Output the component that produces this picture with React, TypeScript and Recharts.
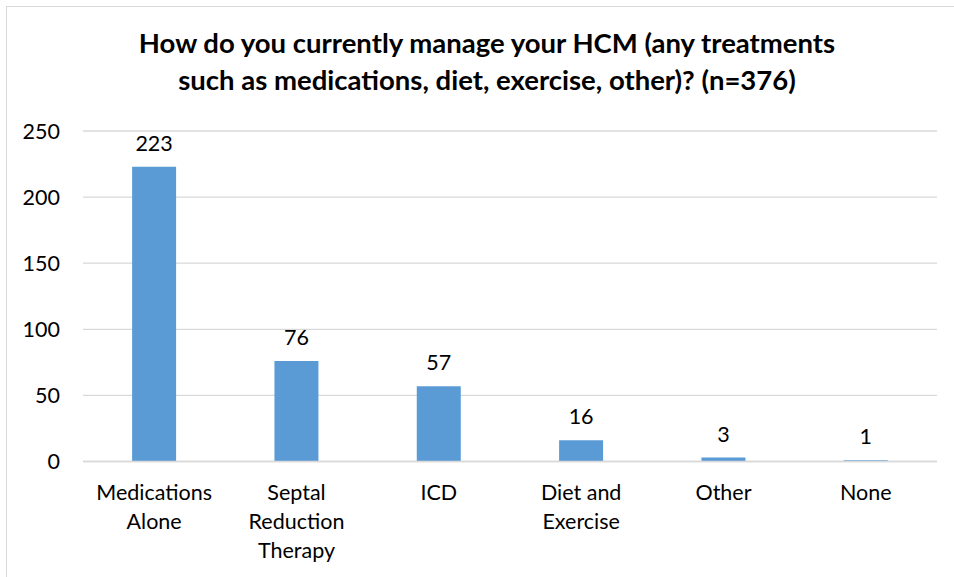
import React from "react";
import { BarChart, Bar, XAxis, YAxis, CartesianGrid, LabelList } from "recharts";

const categories = ["Medications Alone", "Septal Reduction Therapy", "ICD", "Diet and Exercise", "Other", "None"];
const counts = [223, 76, 57, 16, 3, 1];
const yTicks = [0, 50, 100, 150, 200, 250];
const titleLines = [
  "How do you currently manage your HCM (any treatments",
  "such as medications, diet, exercise, other)? (n=376)",
];

const data = categories.map((c, i) => ({ name: c, value: counts[i] }));

const FONT = "Lato, 'Open Sans', sans-serif";
const FS = 21.5;

function wrap(label: string, maxChars: number): string[] {
  const words = label.split(" ");
  const lines: string[] = [];
  let cur = "";
  for (const w of words) {
    const next = cur ? cur + " " + w : w;
    if (next.length > maxChars && cur) {
      lines.push(cur);
      cur = w;
    } else {
      cur = next;
    }
  }
  if (cur) lines.push(cur);
  return lines;
}

const XTick = (props: any) => {
  const { x, y, payload } = props;
  const lines = wrap(String(payload.value), 12);
  return (
    <text x={x} y={y} textAnchor="middle" fill="#000" fontSize={FS} fontFamily={FONT}>
      {lines.map((l, i) => (
        <tspan key={i} x={x} dy={i === 0 ? 30.5 : 29}>
          {l}
        </tspan>
      ))}
    </text>
  );
};

export default function App() {
  return (
    <div style={{ position: "absolute", left: 0, top: 0, width: 954, height: 577, overflow: "hidden", background: "#fff" }}>
      <div
        style={{
          position: "absolute",
          left: 6,
          top: 6,
          width: 960,
          height: 600,
          borderLeft: "1.5px solid #d9d9d9",
          borderTop: "1.5px solid #d9d9d9",
        }}
      />
      <div
        style={{
          position: "absolute",
          left: 0,
          width: 974,
          top: 24,
          textAlign: "center",
          fontFamily: FONT,
          fontWeight: 700,
          fontSize: 27.5,
          lineHeight: "37px",
          color: "#000",
          whiteSpace: "nowrap",
        }}
      >
        {titleLines.map((t, i) => (
          <div key={i}>{t}</div>
        ))}
      </div>
      <div style={{ position: "absolute", left: 0, top: 0 }}>
        <BarChart
          width={954}
          height={577}
          data={data}
          margin={{ top: 131, right: 17, bottom: 0, left: 0 }}
          barCategoryGap="34.5%"
        >
          <CartesianGrid vertical={false} stroke="#d9d9d9" strokeWidth={1.3} />
          <XAxis
            dataKey="name"
            axisLine={{ stroke: "#d9d9d9", strokeWidth: 1.3 }}
            tickLine={false}
            tick={<XTick />}
            interval={0}
            height={115.5}
          />
          <YAxis
            domain={[0, 250]}
            ticks={yTicks}
            axisLine={false}
            tickLine={false}
            tickSize={0}
            tickMargin={23}
            width={83}
            tick={{ fill: "#000", fontSize: FS, fontFamily: FONT }}
          />
          <Bar dataKey="value" fill="#5b9bd5" isAnimationActive={false}>
            <LabelList dataKey="value" position="top" offset={16} fill="#000" fontSize={FS} fontFamily={FONT} />
          </Bar>
        </BarChart>
      </div>
    </div>
  );
}
